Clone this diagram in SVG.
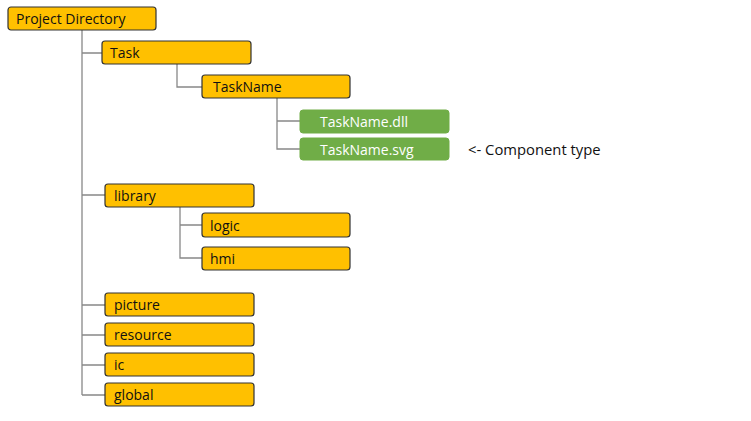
<svg xmlns="http://www.w3.org/2000/svg" width="751" height="421" viewBox="0 0 751 421">
<style>
.n{fill:#FFC000;stroke:#333;stroke-width:1.2}
.g{fill:#70AD47;stroke:#70AD47;stroke-width:1}
.t{font-family:"Open Sans","Noto Sans",sans-serif;font-size:14px;fill:#111}
.w{font-family:"Open Sans","Noto Sans",sans-serif;font-size:14px;fill:#fff}
.c{stroke:#888;stroke-width:1.3;fill:none}
</style>
<rect width="751" height="421" fill="#fff"/>
<g id="connectors">
<path class="c" d="M82 30V395M82 53H102M82 195H105M82 305H105M82 335H105M82 365H105M82 395H105"/>
<path class="c" d="M177 64V87H202"/>
<path class="c" d="M277 98V149H300M277 121H300"/>
<path class="c" d="M180 207V258H202M180 225H202"/>
</g>
<g id="project"><rect class="n" x="8" y="7" width="148" height="23" rx="3"/><text class="t" x="16" y="24">Project Directory</text></g>
<g id="task"><rect class="n" x="102" y="41" width="149" height="23" rx="3"/><text class="t" x="110" y="58">Task</text></g>
<g id="taskname"><rect class="n" x="202" y="75" width="148" height="23" rx="3"/><text class="t" x="213" y="92">TaskName</text></g>
<g id="dll"><rect class="g" x="300" y="110" width="149" height="23" rx="3"/><text class="w" x="320" y="127">TaskName.dll</text></g>
<g id="svg"><rect class="g" x="300" y="138" width="149" height="22" rx="3"/><text class="w" x="320" y="155">TaskName.svg</text></g>
<g id="note"><text class="t" x="468" y="155" style="font-size:14.8px">&lt;- Component type</text></g>
<g id="library"><rect class="n" x="105" y="184" width="149" height="23" rx="3"/><text class="t" x="114" y="201">library</text></g>
<g id="logic"><rect class="n" x="202" y="213" width="148" height="24" rx="3"/><text class="t" x="210" y="231">logic</text></g>
<g id="hmi"><rect class="n" x="202" y="247" width="148" height="23" rx="3"/><text class="t" x="210" y="264">hmi</text></g>
<g id="picture"><rect class="n" x="105" y="293" width="149" height="23" rx="3"/><text class="t" x="114" y="310">picture</text></g>
<g id="resource"><rect class="n" x="105" y="323" width="149" height="23" rx="3"/><text class="t" x="114" y="340">resource</text></g>
<g id="ic"><rect class="n" x="105" y="353" width="149" height="23" rx="3"/><text class="t" x="114" y="370">ic</text></g>
<g id="global"><rect class="n" x="105" y="383" width="149" height="23" rx="3"/><text class="t" x="114" y="400">global</text></g>
</svg>
